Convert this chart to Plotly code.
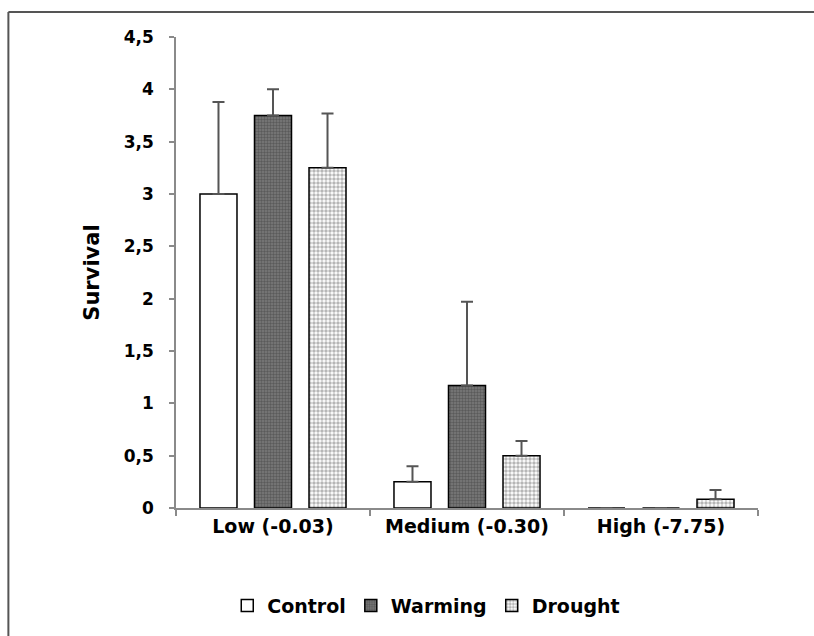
import plotly.graph_objects as go

# Soil water potential classes and survival per treatment
categories = ["Low (-0.03)", "Medium (-0.30)", "High (-7.75)"]
control = [3.0, 0.25, 0.0]
control_err = [0.88, 0.15, 0.0]
warming = [3.75, 1.17, 0.0]
warming_err = [0.25, 0.80, 0.0]
drought = [3.25, 0.5, 0.083]
drought_err = [0.52, 0.14, 0.09]

FONT = "DejaVu Sans, Arial, sans-serif"
AXIS_GREY = "#8a8a8a"
ERR = "#555555"


def err_bar(vals):
    return dict(type="data", array=vals, arrayminus=[0] * len(vals),
                symmetric=False, color=ERR, thickness=2, width=6)


fig = go.Figure()
fig.add_trace(go.Bar(
    name="<b>Control</b>", x=categories, y=control, error_y=err_bar(control_err),
    marker=dict(color="white", line=dict(color="black", width=1.5)),
))
fig.add_trace(go.Bar(
    name="<b>Warming</b>", x=categories, y=warming, error_y=err_bar(warming_err),
    marker=dict(color="#6e6e6e", line=dict(color="black", width=1.5),
                pattern=dict(shape=".", fgcolor="#3a3a3a", bgcolor="#7a7a7a",
                             size=3, solidity=0.5)),
))
fig.add_trace(go.Bar(
    name="<b>Drought</b>", x=categories, y=drought, error_y=err_bar(drought_err),
    marker=dict(color="#b8b8b8", line=dict(color="black", width=1.5),
                pattern=dict(shape=".", fgcolor="#6e6e6e", bgcolor="white",
                             size=4, solidity=0.6)),
))

fig.update_layout(
    width=814, height=636,
    margin=dict(l=176, r=56, t=37, b=127),
    plot_bgcolor="white", paper_bgcolor="white",
    barmode="group", bargap=0.157, bargroupgap=0.321,
    separators=",.",
    font=dict(family=FONT, size=17, color="black"),
    showlegend=True,
    legend=dict(orientation="h", x=0.43, xanchor="center", y=-0.205,
                yanchor="middle", font=dict(family=FONT, size=19, color="black"),
                itemwidth=30, tracegroupgap=0, bgcolor="rgba(0,0,0,0)"),
    shapes=[
        # outer frame (top and left edges)
        dict(type="line", xref="paper", yref="paper", x0=-0.288, x1=1.2,
             y0=1.053, y1=1.053, line=dict(color="#555555", width=2)),
        dict(type="line", xref="paper", yref="paper", x0=-0.288, x1=-0.288,
             y0=1.053, y1=-0.3, line=dict(color="#555555", width=2)),
    ],
)

fig.update_xaxes(
    showline=True, linecolor=AXIS_GREY, linewidth=1.5,
    ticks="outside", tickson="boundaries", ticklen=6, tickcolor=AXIS_GREY,
    tickwidth=1.5, showgrid=False,
    tickfont=dict(family=FONT, size=19, color="black", weight="bold"),
)
fig.update_yaxes(
    range=[0, 4.5], dtick=0.5, showgrid=False, zeroline=False,
    showline=True, linecolor=AXIS_GREY, linewidth=1.5,
    ticks="outside", ticklen=5, tickcolor=AXIS_GREY, tickwidth=1.5,
    ticklabelstandoff=12,
    tickfont=dict(family=FONT, size=17, color="black", weight="bold"),
    title=dict(text="<b>Survival</b>", font=dict(family=FONT, size=21), standoff=18),
)

fig.write_html("out.html")
